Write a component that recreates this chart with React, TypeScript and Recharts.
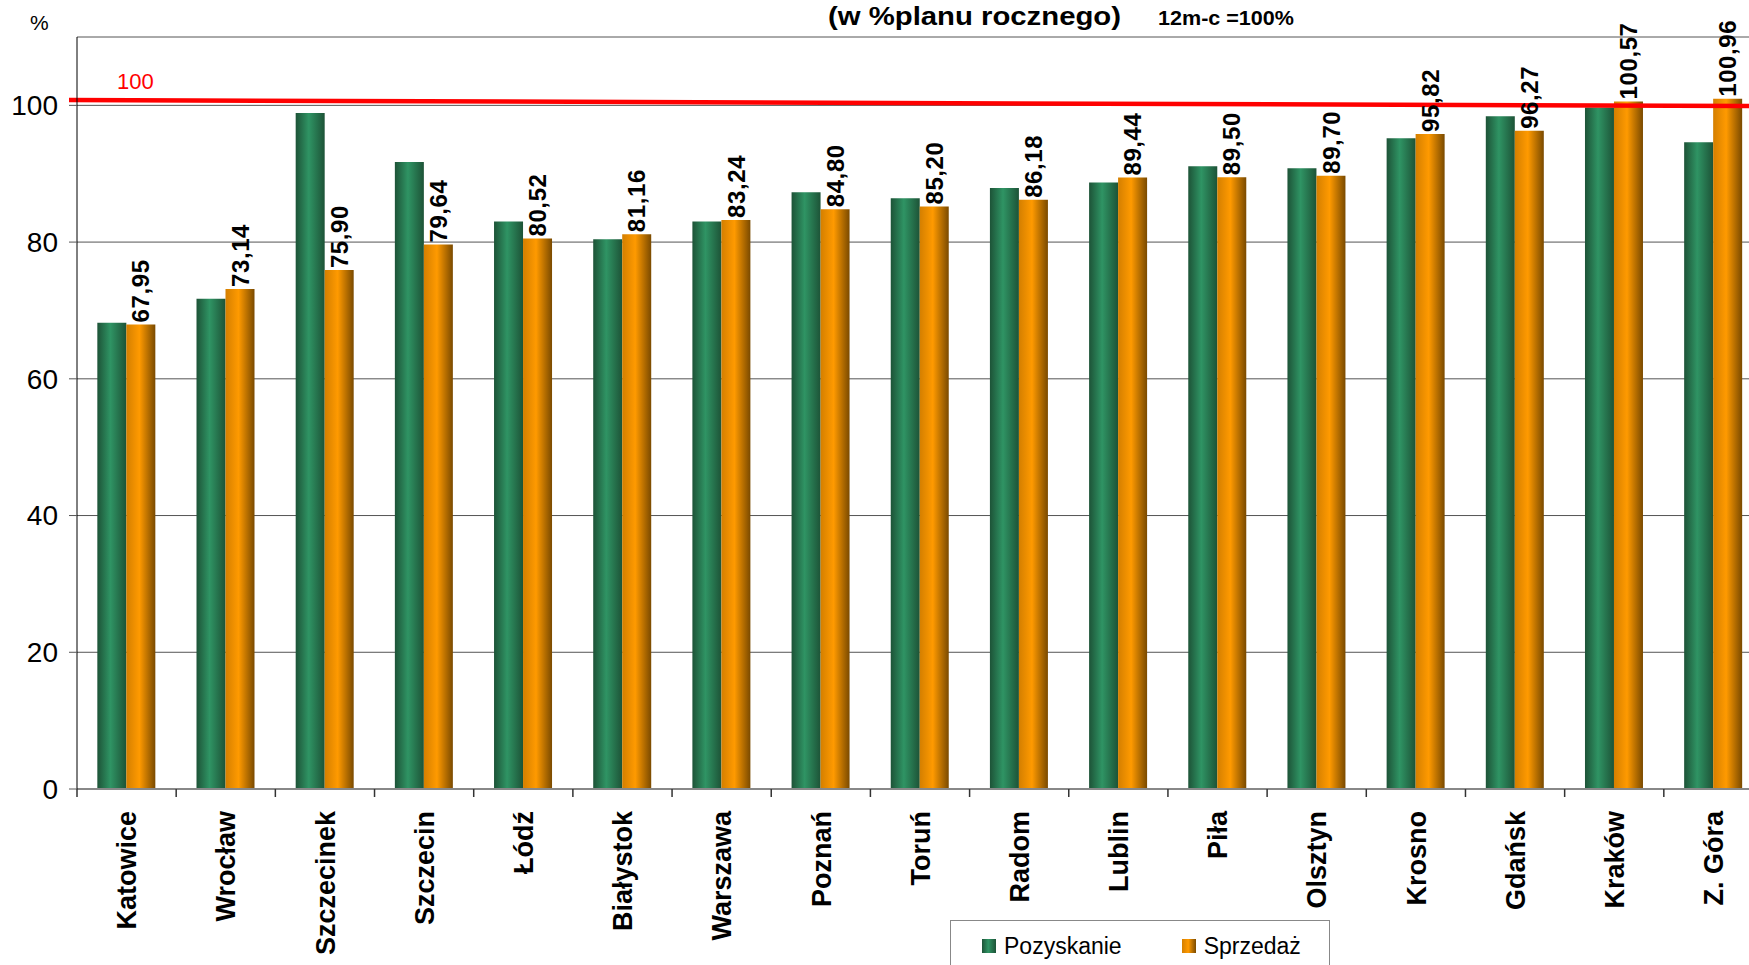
import React from 'react';
import { BarChart, Bar, XAxis, YAxis, CartesianGrid, ReferenceLine, LabelList, Legend } from 'recharts';

const CITIES = ['Katowice', 'Wrocław', 'Szczecinek', 'Szczecin', 'Łódź', 'Białystok', 'Warszawa', 'Poznań', 'Toruń', 'Radom', 'Lublin', 'Piła', 'Olsztyn', 'Krosno', 'Gdańsk', 'Kraków', 'Z. Góra'];
const POZYSKANIE = [68.2, 71.7, 98.9, 91.7, 83.0, 80.4, 83.0, 87.3, 86.4, 87.9, 88.7, 91.1, 90.8, 95.2, 98.4, 99.7, 94.6];
const SPRZEDAZ = [67.95, 73.14, 75.9, 79.64, 80.52, 81.16, 83.24, 84.8, 85.2, 86.18, 89.44, 89.5, 89.7, 95.82, 96.27, 100.57, 100.96];
const Y_TICKS = [0, 20, 40, 60, 80, 100];
// red "100" line: value at the first and last city (it is slightly askew in the original)
const TARGET_LINE = [100.75, 99.92];

const data = CITIES.map((name, i) => ({ name, poz: POZYSKANIE[i], spr: SPRZEDAZ[i] }));

const FONT = '"Liberation Sans", Arial, sans-serif';

const CityTick = ({ x, y, payload, index, visibleTicksCount }: any) => {
    const half = payload?.offset ?? 0;
    const last = index === visibleTicksCount - 1;
    return (
        <g>
            <line x1={x - half} x2={x - half} y1={y} y2={y + 8} stroke="#333" strokeWidth={1.5} />
            {last && <line x1={x + half} x2={x + half} y1={y} y2={y + 8} stroke="#333" strokeWidth={1.5} />}
            <text
                transform={`translate(${x},${y + 22}) rotate(-90)`}
                textAnchor="end"
                dy="0.36em"
                fontSize={27}
                fontWeight="bold"
                fontFamily={FONT}
                fill="#000"
            >
                {payload.value}
            </text>
        </g>
    );
};

const ValueLabel = ({ x, y, width, value }: any) => (
    <text
        transform={`translate(${x + width / 2},${y - 2}) rotate(-90)`}
        textAnchor="start"
        dy="0.36em"
        fontSize={24}
        fontWeight="bold"
        fontFamily={FONT}
        fill="#000"
        letterSpacing={0.6}
    >
        {Number(value).toFixed(2).replace('.', ',')}
    </text>
);

// segment runs between band centres, stretch it out to the plot edges
const TargetLine = ({ x1, y1, x2, y2, stroke, strokeWidth }: any) => {
    if (x1 == null || x2 == null) return null;
    const half = (x2 - x1) / (CITIES.length - 1) / 2;
    const slope = (y2 - y1) / (x2 - x1);
    const xa = x1 - half - 8;
    const xb = x2 + half;
    return (
        <line
            x1={xa}
            y1={y1 + slope * (xa - x1)}
            x2={xb}
            y2={y1 + slope * (xb - x1)}
            stroke={stroke}
            strokeWidth={strokeWidth}
        />
    );
};

const GREEN_CSS = 'linear-gradient(to right, #1d5337, #2f9464 45%, #1d5337)';
const ORANGE_CSS = 'linear-gradient(to right, #d47f00, #ff9a00 45%, #7a4a00)';

const LegendBox = ({ payload }: any) => (
    <div
        style={{
            border: '1.5px solid #888',
            background: '#fff',
            height: 60,
            boxSizing: 'border-box',
            display: 'flex',
            alignItems: 'flex-start',
            paddingTop: 11,
            paddingLeft: 31,
            fontFamily: FONT,
            fontSize: 23,
            color: '#000',
        }}
    >
        {(payload || []).map((p: any, i: number) => (
            <div key={p.value} style={{ display: 'flex', alignItems: 'center', marginRight: i === 0 ? 60 : 0 }}>
                <span style={{ width: 14, height: 14, display: 'inline-block', background: i === 0 ? GREEN_CSS : ORANGE_CSS, marginRight: 8 }} />
                <span style={{ lineHeight: '28px' }}>{p.value}</span>
            </div>
        ))}
    </div>
);

export default function App() {
    return (
        <div style={{ position: 'absolute', left: 0, top: 0, width: 1749, height: 965, overflow: 'hidden', background: '#fff' }}>
            <BarChart
                width={1763}
                height={965}
                data={data}
                margin={{ top: 37, right: 0, left: 0, bottom: 0 }}
                barCategoryGap="20.5%"
                barGap={0}
            >
                <defs>
                    <linearGradient id="gGreen" x1="0" y1="0" x2="1" y2="0">
                        <stop offset="0%" stopColor="#1d5337" />
                        <stop offset="45%" stopColor="#2f9464" />
                        <stop offset="100%" stopColor="#1d5337" />
                    </linearGradient>
                    <linearGradient id="gOrange" x1="0" y1="0" x2="1" y2="0">
                        <stop offset="0%" stopColor="#d47f00" />
                        <stop offset="45%" stopColor="#ff9a00" />
                        <stop offset="100%" stopColor="#7a4a00" />
                    </linearGradient>
                </defs>
                <CartesianGrid vertical={false} stroke="#555" strokeWidth={1} />
                <XAxis
                    dataKey="name"
                    height={176}
                    interval={0}
                    tickLine={false}
                    tickSize={0}
                    tickMargin={0}
                    axisLine={{ stroke: '#888', strokeWidth: 2 }}
                    tick={<CityTick />}
                />
                <YAxis
                    width={77}
                    domain={[0, 110]}
                    ticks={Y_TICKS}
                    interval={0}
                    tickSize={8}
                    tickMargin={11}
                    tickLine={{ stroke: '#555' }}
                    axisLine={{ stroke: '#000', strokeWidth: 1 }}
                    tick={{ fontSize: 28, fill: '#000', fontFamily: FONT }}
                />
                <Bar dataKey="poz" name="Pozyskanie" fill="url(#gGreen)" isAnimationActive={false} />
                <Bar dataKey="spr" name="Sprzedaż" fill="url(#gOrange)" isAnimationActive={false}>
                    <LabelList dataKey="spr" content={<ValueLabel />} />
                </Bar>
                <ReferenceLine
                    segment={[
                        { x: CITIES[0], y: TARGET_LINE[0] },
                        { x: CITIES[CITIES.length - 1], y: TARGET_LINE[1] },
                    ]}
                    stroke="#ff0000"
                    strokeWidth={4.5}
                    ifOverflow="visible"
                    shape={<TargetLine />}
                />
                <Legend
                    layout="horizontal"
                    verticalAlign="middle"
                    align="center"
                    content={<LegendBox />}
                    wrapperStyle={{ position: 'absolute', left: 950, top: 920, width: 380, height: 60 }}
                />
            </BarChart>
            <svg width={1749} height={965} style={{ position: 'absolute', left: 0, top: 0, pointerEvents: 'none' }}>
                <text x={30} y={30} fontSize={21} fontFamily={FONT} fill="#000">%</text>
                <text x={117} y={89} fontSize={22} fontFamily={FONT} fill="#ff0000">100</text>
                <text x={828} y={25} fontSize={26} fontWeight="bold" fontFamily={FONT} fill="#000" textLength={293} lengthAdjust="spacingAndGlyphs">
                    (w %planu rocznego)
                </text>
                <text x={1158} y={25} fontSize={20} fontWeight="bold" fontFamily={FONT} fill="#000" textLength={136} lengthAdjust="spacingAndGlyphs">
                    12m-c =100%
                </text>
            </svg>
        </div>
    );
}
